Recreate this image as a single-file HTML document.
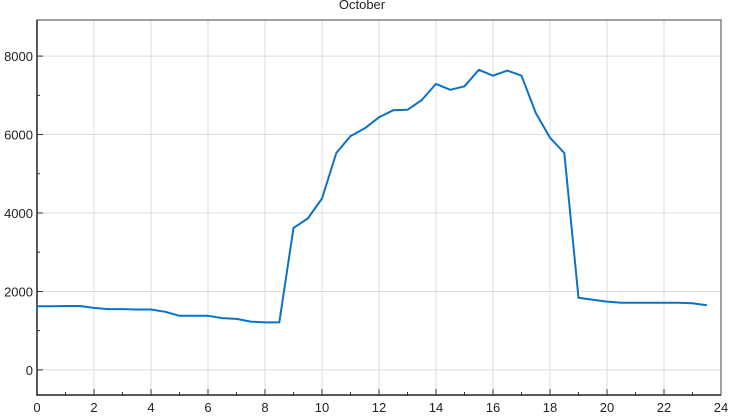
<!DOCTYPE html>
<html><head><meta charset="utf-8"><style>
body{margin:0;background:#fff;}
svg{display:block;font-family:"Segoe UI","Liberation Sans",sans-serif;}
</style></head><body>
<svg id="chart" width="732" height="417" viewBox="0 0 732 417" xmlns="http://www.w3.org/2000/svg">
<text x="362" y="9" text-anchor="middle" font-size="13" fill="#222">October</text>
<g id="grid"></g><g id="axes"></g><g id="series"></g>
</svg>
<script>
const hours=[0,0.5,1,1.5,2,2.5,3,3.5,4,4.5,5,5.5,6,6.5,7,7.5,8,8.5,9,9.5,10,10.5,11,11.5,12,12.5,13,13.5,14,14.5,15,15.5,16,16.5,17,17.5,18,18.5,19,19.5,20,20.5,21,21.5,22,22.5,23,23.5];
const values=[1620,1620,1630,1630,1580,1550,1550,1540,1540,1480,1380,1380,1380,1320,1300,1230,1210,1210,3620,3860,4370,5530,5960,6160,6440,6620,6630,6880,7290,7140,7230,7650,7500,7630,7500,6550,5920,5530,1840,1790,1740,1710,1710,1710,1710,1710,1700,1650];
const xTicks=[0,2,4,6,8,10,12,14,16,18,20,22,24];
const yTicks=[0,2000,4000,6000,8000];
const L=37,R=721,T=20,B=395;
const xMin=0,xMax=24,yMin=-640,yMax=8920;
const sx=v=>L+(v-xMin)/(xMax-xMin)*(R-L);
const sy=v=>B-(v-yMin)/(yMax-yMin)*(B-T);
const NS="http://www.w3.org/2000/svg";
function mk(tag,attrs,parent){const e=document.createElementNS(NS,tag);for(const k in attrs)e.setAttribute(k,attrs[k]);parent.appendChild(e);return e;}
const grid=document.getElementById('grid'),axes=document.getElementById('axes'),series=document.getElementById('series');
xTicks.forEach(t=>{
 const g=mk('line',{x1:sx(t),x2:sx(t),y1:T,y2:B,stroke:'#dcdcdc','stroke-width':1},grid);
 
 
 const tk=mk('line',{x1:sx(t),x2:sx(t),y1:B-6,y2:B,stroke:'#333','stroke-width':1},axes);
 
 
 const lb=mk('text',{x:sx(t),y:B+17,'text-anchor':'middle','font-size':13,fill:'#222'},axes);
 lb.textContent=t;
 
 
});
for(let t=1;t<24;t+=2){
 const tk=mk('line',{x1:sx(t),x2:sx(t),y1:B-3,y2:B,stroke:'#333','stroke-width':1},axes);
 
 
}
yTicks.forEach(t=>{
 const g=mk('line',{x1:L,x2:R,y1:sy(t),y2:sy(t),stroke:'#dcdcdc','stroke-width':1},grid);
 
 
 const tk=mk('line',{x1:L,x2:L+6,y1:sy(t),y2:sy(t),stroke:'#333','stroke-width':1},axes);
 
 
 const lb=mk('text',{x:L-4,y:sy(t)+5,'text-anchor':'end','font-size':13,fill:'#222'},axes);
 lb.textContent=t;
 
 
});
for(let t=1000;t<9000;t+=2000){
 const tk=mk('line',{x1:L,x2:L+3,y1:sy(t),y2:sy(t),stroke:'#333','stroke-width':1},axes);
 
 
}
const fr=mk('rect',{x:L,y:T,width:R-L,height:B-T,fill:'none',stroke:'#444','stroke-width':1},axes);


const ax=mk('path',{d:`M${L},${T}V${B}H${R}`,fill:'none',stroke:'#222','stroke-width':1.5},axes);


const pts=hours.map((h,i)=>sx(h).toFixed(1)+','+sy(values[i]).toFixed(1)).join(' ');
const pl=mk('polyline',{points:pts,fill:'none',stroke:'#0a72c8','stroke-width':2,'stroke-linejoin':'round'},series);


</script>
</body></html>
